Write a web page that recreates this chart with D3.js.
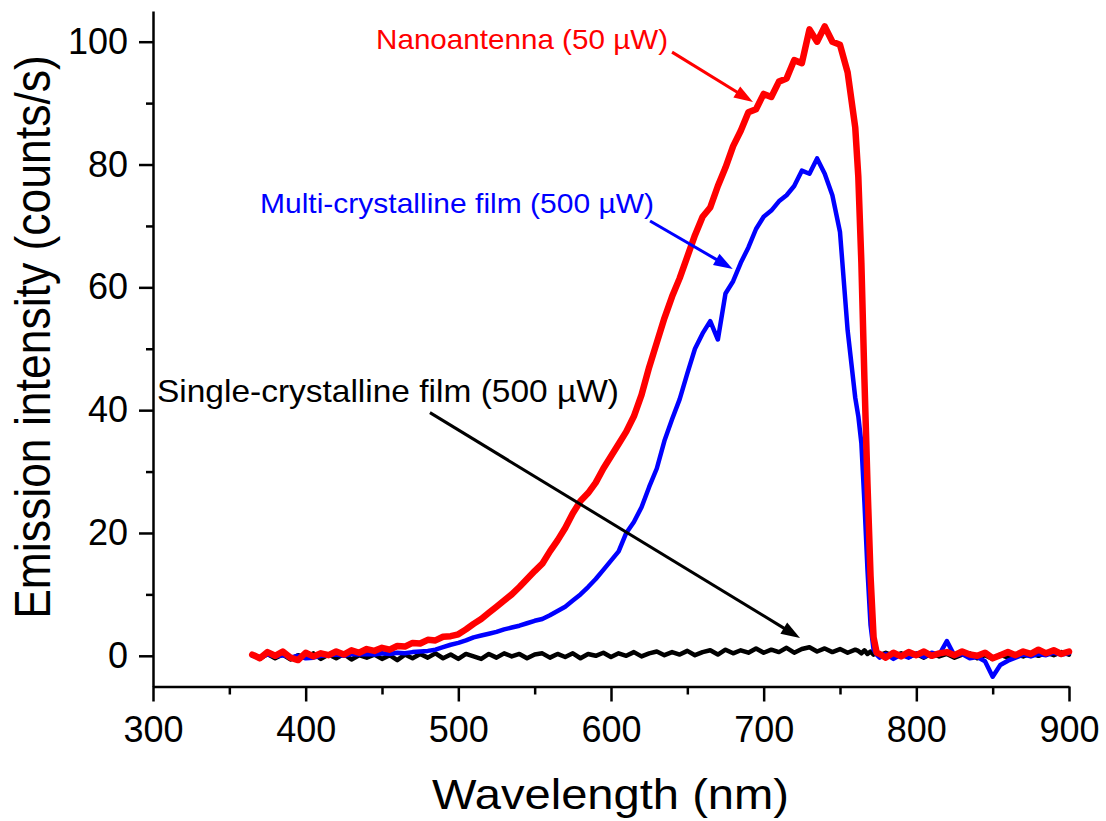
<!DOCTYPE html>
<html><head><meta charset="utf-8">
<script src="https://cdn.jsdelivr.net/npm/d3@7"></script>
<style>body{margin:0;background:#fff}svg{display:block}</style>
</head><body>
<svg id="chart" width="1106" height="821"></svg>
<script>
// ---- data ----
const wavelength = [
 365,370,375,380,385,390,395,400,405,410,
 415,420,425,430,435,440,445,450,455,460,
 465,470,475,480,485,490,495,500,505,510,
 515,520,525,530,535,540,545,550,555,560,
 565,570,575,580,585,590,595,600,605,610,
 615,620,625,630,635,640,645,650,655,660,
 665,670,675,680,685,690,695,700,705,710,
 715,720,725,730,735,740,745,750,755,760,
 762,764,766,768,770,772,774,776,780,785,
 790,795,800,805,810,815,820,825,830,835,
 840,845,850,855,860,865,870,875,880,885,
 890,895,900];
const nanoantenna = [
 0.2,-0.4,0.6,0.0,0.7,-0.3,-0.7,0.5,-0.1,0.4,
 0.1,0.7,0.2,0.9,0.5,1.1,0.8,1.3,1.0,1.6,
 1.5,2.1,2.0,2.6,2.5,3.1,3.2,3.5,4.3,5.2,
 6.0,7.0,8.0,9.0,10.0,11.2,12.5,13.8,15.0,17.0,
 18.8,20.8,23.2,25.2,26.5,28.2,30.5,32.5,34.5,36.5,
 39.0,42.5,47.0,51.0,55.0,58.5,61.5,65.0,68.5,71.5,
 73.0,76.5,79.5,83.0,85.5,88.5,89.0,91.5,91.0,93.5,
 94.0,97.0,96.5,102.0,100.0,102.5,100.0,99.5,95.0,86.0,
 78.0,64.0,45.0,28.0,13.0,3.0,0.5,0.3,-0.3,0.5,
 -0.1,0.6,0.1,0.7,0.0,0.4,0.6,0.1,0.7,0.2,
 0.0,0.5,-0.4,0.1,0.6,0.1,0.7,0.3,1.0,0.4,
 0.9,0.3,0.7];
const multiCrystalline = [
 0.0,-0.2,0.2,-0.1,0.1,-0.3,0.0,-0.4,-0.3,0.0,
 0.1,0.2,0.0,0.3,0.2,0.3,0.2,0.4,0.3,0.5,
 0.4,0.6,0.7,0.8,1.0,1.4,1.8,2.1,2.5,3.0,
 3.3,3.6,3.9,4.3,4.6,4.9,5.3,5.7,6.0,6.6,
 7.3,8.0,9.0,10.0,11.2,12.5,14.0,15.5,17.0,20.0,
 21.8,24.2,27.5,30.5,35.0,38.5,41.8,46.0,50.0,52.5,
 54.5,51.5,59.0,61.0,64.0,66.5,69.5,71.5,72.5,74.0,
 75.0,76.5,79.0,78.5,81.0,78.5,75.0,69.0,53.0,42.0,
 39.0,34.6,25.0,14.0,5.0,1.0,0.2,-0.3,0.3,-0.5,
 0.2,-0.3,0.4,-0.2,0.5,0.2,2.4,0.0,0.3,-0.4,
 -0.2,-0.9,-3.4,-1.5,-0.8,-0.3,0.2,-0.1,0.3,0.1,
 0.5,0.2,0.4];
const singleCrystalline = [
 0.2,-0.5,0.3,-0.4,0.2,-0.6,0.1,-0.3,0.4,-0.5,
 0.2,-0.4,0.3,-0.6,0.1,-0.3,0.2,-0.5,0.1,-0.7,
 0.2,-0.4,0.3,-0.3,0.4,-0.4,0.2,-0.5,0.3,-0.1,
 -0.5,0.3,-0.3,0.4,-0.1,0.3,-0.4,0.2,0.4,-0.3,
 0.3,-0.2,0.4,-0.4,0.3,0.0,0.5,-0.2,0.4,0.0,
 0.6,-0.1,0.4,0.7,0.1,0.6,0.2,0.8,0.1,0.6,
 0.9,0.2,1.0,0.4,0.9,0.5,1.2,0.5,1.0,0.6,
 1.3,0.5,1.1,1.4,0.7,1.2,0.6,1.1,0.5,1.0,
 0.8,0.4,0.9,0.3,0.7,0.2,0.6,0.1,0.5,0.0,
 0.4,-0.2,0.3,-0.3,0.4,-0.1,0.3,-0.3,0.2,0.4,
 -0.4,0.1,-0.5,0.2,-0.3,0.3,-0.1,0.4,0.0,0.5,
 0.1,0.6,0.2];

const xTicks = [300,400,500,600,700,800,900];
const xMinorTicks = [350,450,550,650,750,850];
const yTicks = [0,20,40,60,80,100];
const yMinorTicks = [10,30,50,70,90];
const xDomain = [300,900];
const yDomain = [-5,105];
const xTitle = "Wavelength (nm)";
const yTitle = "Emission intensity (counts/s)";

// annotations: label text, label anchor (data units), arrow from -> to (data units)
const annotLabels = ["Nanoantenna (50 µW)", "Multi-crystalline film (500 µW)", "Single-crystalline film (500 µW)"];
const annotLabelPos = [[446.1, 98.8], [370.1, 72.1], [302.6, 41.4]];
const annotArrowFrom = [[640.0, 98.3], [625.6, 70.8], [481.4, 39.6]];
const annotArrowTo = [[693.0, 90.2], [679.7, 63.0], [723.8, 2.9]];

// ---- drawing ----
const FONT = "'Liberation Sans', Arial, Helvetica, sans-serif";
const svg = d3.select("#chart");
svg.append("rect").attr("width",1106).attr("height",821).attr("fill","#fff");

const x = d3.scaleLinear().domain(xDomain).range([153, 1069]);
const y = d3.scaleLinear().domain(yDomain).range([686.5, 11]);

const series = [
  {values: singleCrystalline, color: "#000000", width: 4.5},
  {values: multiCrystalline, color: "#0000ff", width: 4.5},
  {values: nanoantenna, color: "#ff0000", width: 6.5}
];
const line = d3.line().x((d,i)=>x(wavelength[i])).y(d=>y(d));
svg.append("g").selectAll("path").data(series).join("path")
  .attr("d", s => line(s.values))
  .attr("fill","none")
  .attr("stroke", s => s.color)
  .attr("stroke-width", s => s.width)
  .attr("stroke-linejoin","round")
  .attr("stroke-linecap","round");

// axes
const axisStroke = 2.5;
function styleAxis(g){
  g.select(".domain").attr("stroke","#000").attr("stroke-width",axisStroke);
  g.selectAll(".tick line").attr("stroke","#000").attr("stroke-width",axisStroke);
  g.selectAll(".tick text").attr("fill","#000").style("font-family",FONT).style("font-size","36px");
}
const gx = svg.append("g").attr("transform",`translate(0,${y(yDomain[0])})`)
  .call(d3.axisBottom(x).tickValues(xTicks).tickSize(15).tickSizeOuter(0).tickPadding(15).tickFormat(d3.format("d")));
styleAxis(gx);
const gxm = svg.append("g").attr("transform",`translate(0,${y(yDomain[0])})`)
  .call(d3.axisBottom(x).tickValues(xMinorTicks).tickSize(8).tickSizeOuter(0).tickFormat(""));
styleAxis(gxm); gxm.select(".domain").remove();

const gy = svg.append("g").attr("transform",`translate(${x(xDomain[0])},0)`)
  .call(d3.axisLeft(y).tickValues(yTicks).tickSize(14).tickSizeOuter(0).tickPadding(11).tickFormat(d3.format("d")));
styleAxis(gy);
const gym = svg.append("g").attr("transform",`translate(${x(xDomain[0])},0)`)
  .call(d3.axisLeft(y).tickValues(yMinorTicks).tickSize(7).tickSizeOuter(0).tickFormat(""));
styleAxis(gym); gym.select(".domain").remove();

// axis titles
svg.append("text").attr("x",610.5).attr("y",809).attr("text-anchor","middle")
  .attr("textLength",357).attr("lengthAdjust","spacingAndGlyphs")
  .style("font-family",FONT).style("font-size","43px").attr("fill","#000").text(xTitle);
svg.append("text").attr("transform","translate(50,337) scale(1.12,1) rotate(-90)")
  .attr("text-anchor","middle")
  .style("font-family",FONT).style("font-size","44.5px").attr("fill","#000").text(yTitle);

// annotations
const annotColors = ["#ff0000","#0000ff","#000000"];
const annotFont = [28, 28, 30.5];
const annotLen = [292, 394, 462];
annotLabels.forEach((t,i)=>{
  svg.append("text").attr("x",x(annotLabelPos[i][0])).attr("y",y(annotLabelPos[i][1]))
    .attr("textLength",annotLen[i]).attr("lengthAdjust","spacingAndGlyphs")
    .style("font-family",FONT).style("font-size",annotFont[i]+"px")
    .attr("fill",annotColors[i]).text(t);
  const x1 = x(annotArrowFrom[i][0]), y1 = y(annotArrowFrom[i][1]);
  const x2 = x(annotArrowTo[i][0]), y2 = y(annotArrowTo[i][1]);
  const ang = Math.atan2(y2-y1, x2-x1);
  const hl = 19, hw = 6.5;
  const bx = x2 - hl*Math.cos(ang), by = y2 - hl*Math.sin(ang);
  svg.append("line").attr("x1",x1).attr("y1",y1).attr("x2",bx+2*Math.cos(ang)).attr("y2",by+2*Math.sin(ang))
    .attr("stroke",annotColors[i]).attr("stroke-width",3);
  const px = -Math.sin(ang), py = Math.cos(ang);
  svg.append("polygon")
    .attr("points",[[x2,y2],[bx+hw*px,by+hw*py],[bx-hw*px,by-hw*py]].map(p=>p.join(",")).join(" "))
    .attr("fill",annotColors[i]);
});
</script>
</body></html>
